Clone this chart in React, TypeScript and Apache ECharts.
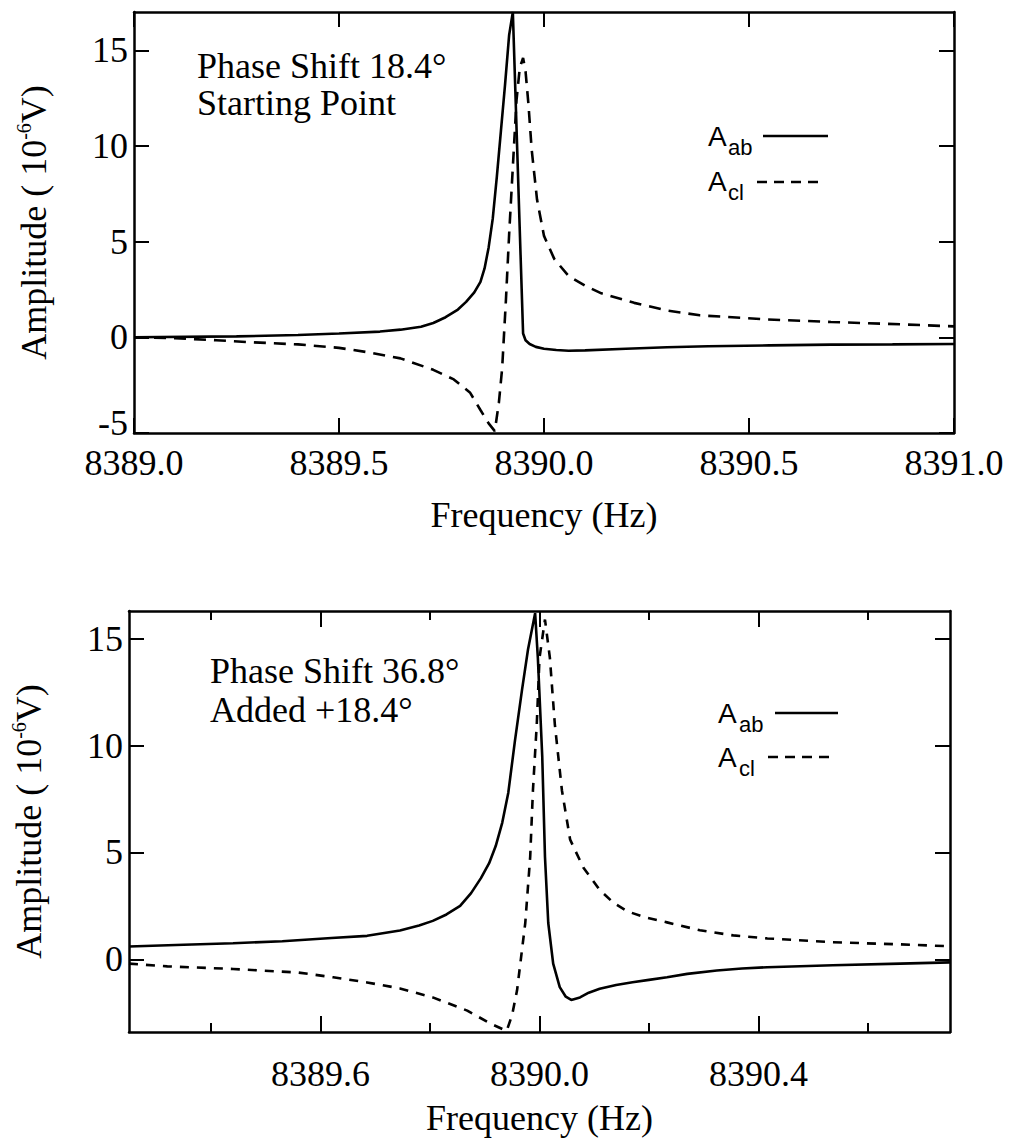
import React, { useEffect, useRef } from "react";
import * as echarts from "echarts";

// ---------- DATA ----------
// Top panel: phase shift 18.4° (starting point)
const topFreqAb = [
  8389.0, 8389.25, 8389.4, 8389.5, 8389.6, 8389.65, 8389.7, 8389.73, 8389.76, 8389.79,
  8389.81, 8389.83, 8389.845, 8389.855, 8389.865, 8389.875, 8389.885, 8389.895, 8389.905,
  8389.915, 8389.924, 8389.932, 8389.94, 8389.949, 8389.955, 8389.965, 8389.98, 8390.0,
  8390.03, 8390.06, 8390.1, 8390.2, 8390.3, 8390.4, 8390.55, 8390.7, 8390.85, 8391.0,
];
const topAb = [
  0.0, 0.05, 0.12, 0.2, 0.3, 0.4, 0.55, 0.75, 1.05, 1.45,
  1.85, 2.35, 2.9, 3.6, 4.7, 6.2, 8.4, 10.8, 13.2,
  15.8, 17.0, 11.6, 6.2, 0.2, -0.15, -0.35, -0.5, -0.6,
  -0.66, -0.7, -0.68, -0.6, -0.52, -0.47, -0.42, -0.38, -0.37, -0.35,
];
const topFreqCl = [
  8389.0, 8389.1, 8389.2, 8389.28, 8389.4, 8389.5, 8389.57, 8389.65, 8389.73, 8389.78,
  8389.82, 8389.845, 8389.865, 8389.88, 8389.89, 8389.898, 8389.907, 8389.915, 8389.924,
  8389.933, 8389.941, 8389.949, 8389.955, 8389.962, 8389.97, 8389.983, 8390.0, 8390.025,
  8390.06, 8390.1, 8390.14, 8390.22, 8390.3, 8390.38, 8390.54, 8390.7, 8390.87, 8391.0,
];
const topCl = [
  0.0, -0.05, -0.15, -0.25, -0.37, -0.55, -0.78, -1.1, -1.7, -2.2,
  -2.9, -3.8, -4.5, -4.9, -3.4, -1.6, 1.9, 5.4, 8.9,
  12.4, 14.1, 14.6, 13.9, 12.2, 9.8, 7.2, 5.3, 4.1,
  3.2, 2.7, 2.3, 1.8, 1.4, 1.15, 0.94, 0.8, 0.68, 0.57,
];

// Bottom panel: phase shift 36.8° (added +18.4°)
const botFreqAb = [
  8389.25, 8389.35, 8389.44, 8389.53, 8389.62, 8389.685, 8389.745, 8389.78, 8389.805, 8389.83,
  8389.855, 8389.875, 8389.893, 8389.908, 8389.92, 8389.932, 8389.943, 8389.955, 8389.968,
  8389.979, 8389.992, 8389.997, 8390.005, 8390.01, 8390.016, 8390.025, 8390.037, 8390.048,
  8390.058, 8390.074, 8390.09, 8390.11, 8390.14, 8390.17, 8390.2, 8390.233, 8390.27, 8390.324,
  8390.37, 8390.416, 8390.536, 8390.659, 8390.75,
];
const botAb = [
  0.6, 0.68, 0.75, 0.85, 1.0, 1.1, 1.35, 1.58, 1.8, 2.1,
  2.5, 3.1, 3.8, 4.5, 5.3, 6.4, 7.8, 10.2, 12.6,
  14.5, 16.2, 14.1, 9.5, 4.8, 1.7, -0.2, -1.3, -1.75,
  -1.9, -1.78, -1.56, -1.38, -1.2, -1.07, -0.96, -0.84, -0.68, -0.52,
  -0.43, -0.37, -0.28, -0.2, -0.14,
];
const botFreqCl = [
  8389.25, 8389.32, 8389.44, 8389.56, 8389.623, 8389.685, 8389.745, 8389.805, 8389.868, 8389.91,
  8389.94, 8389.95, 8389.959, 8389.974, 8389.983, 8389.988, 8389.995, 8390.0, 8390.01,
  8390.019, 8390.028, 8390.041, 8390.056, 8390.08, 8390.11, 8390.135, 8390.16, 8390.195,
  8390.233, 8390.293, 8390.354, 8390.416, 8390.536, 8390.659, 8390.75,
];
const botCl = [
  -0.2, -0.33, -0.45, -0.62, -0.84, -1.08, -1.36, -1.78, -2.4, -3.0,
  -3.35, -2.6, -1.45, 1.7, 4.8, 7.9, 11.0, 14.1, 15.9,
  14.1, 11.0, 7.9, 5.6, 4.3, 3.25, 2.65, 2.25, 1.95,
  1.73, 1.36, 1.12, 0.98, 0.8, 0.7, 0.61,
];

// Axis ticks / labels
const topXLabels = [8389.0, 8389.5, 8390.0, 8390.5, 8391.0];
const topYLabels = [-5, 0, 5, 10, 15];
const botXMajor = [8389.6, 8390.0, 8390.4];
const botXMinor = [8389.4, 8389.8, 8390.2, 8390.6];
const botYLabels = [0, 5, 10, 15];

const topTitle = ["Phase Shift 18.4°", "Starting Point"];
const botTitle = ["Phase Shift 36.8°", "Added +18.4°"];

// ---------- STYLE ----------
const INK = "#000";
const SERIF = "'Liberation Serif', 'Times New Roman', serif";
const SANS = "'Liberation Sans', Arial, sans-serif";

const zip = (xs: number[], ys: number[]) => xs.map((x, i) => [x, ys[i]]);

function xAxisDef(o: any) {
  return {
    type: "value",
    gridIndex: o.grid,
    position: o.pos,
    min: o.min,
    max: o.max,
    axisLine: { show: o.line !== false, onZero: false, lineStyle: { color: INK, width: 2.5 } },
    axisTick: {
      show: true,
      inside: true,
      length: o.len,
      customValues: o.ticks,
      lineStyle: { color: INK, width: 2 },
    },
    axisLabel: o.labels
      ? {
          show: true,
          customValues: o.labels,
          formatter: (v: number) => Number(v).toFixed(1),
          color: INK,
          fontFamily: SERIF,
          fontSize: 36,
          margin: o.margin,
          hideOverlap: false,
        }
      : { show: false },
    splitLine: { show: false },
    name: o.name || "",
    nameLocation: "middle",
    nameGap: o.nameGap || 62,
    nameTextStyle: { color: INK, fontFamily: SERIF, fontSize: 36 },
  };
}

function yAxisDef(o: any) {
  return {
    type: "value",
    gridIndex: o.grid,
    position: o.pos,
    min: o.min,
    max: o.max,
    axisLine: { show: true, onZero: false, lineStyle: { color: INK, width: 2.5 } },
    axisTick: {
      show: true,
      inside: true,
      length: 15,
      customValues: o.ticks,
      lineStyle: { color: INK, width: 2 },
    },
    axisLabel: o.labels
      ? {
          show: true,
          customValues: o.labels,
          // the bottom-corner label is lifted slightly so it clears the x labels
          formatter: (v: number) => (v === o.min ? `{lo|${v}}` : `${v}`),
          color: INK,
          fontFamily: SERIF,
          fontSize: 36,
          margin: 6,
          hideOverlap: false,
          rich: {
            lo: { color: INK, fontFamily: SERIF, fontSize: 36, padding: [0, 0, 20, 0] },
          },
        }
      : { show: false },
    splitLine: { show: false },
    name: o.name ? "{a|Amplitude ( 10}{s|-6}{a|V)}" : "",
    nameLocation: "middle",
    nameRotate: 90,
    nameGap: 80,
    nameTextStyle: {
      color: INK,
      fontFamily: SERIF,
      fontSize: 36,
      rich: {
        a: { color: INK, fontFamily: SERIF, fontSize: 36, lineHeight: 40 },
        s: { color: INK, fontFamily: SERIF, fontSize: 20, lineHeight: 24, verticalAlign: "top" },
      },
    },
  };
}

function label(text: string, x: number, y: number, size: number, family: string) {
  return {
    type: "text",
    x,
    y,
    silent: true,
    style: {
      text,
      fill: INK,
      fontSize: size,
      fontFamily: family,
      align: "left",
      verticalAlign: "middle",
      textAlign: "left",
      textVerticalAlign: "middle",
    },
  };
}

function legendLine(x1: number, x2: number, y: number, dashed: boolean) {
  return {
    type: "line",
    silent: true,
    shape: { x1, y1: y, x2, y2: y },
    style: { stroke: INK, lineWidth: 2.5, lineDash: dashed ? [10, 7] : null },
  };
}

export default function App() {
  const ref = useRef<HTMLDivElement>(null);

  useEffect(() => {
    if (!ref.current) return;
    const chart = echarts.init(ref.current, undefined, { renderer: "svg" });

    const option: any = {
      animation: false,
      backgroundColor: "#fff",
      grid: [
        { left: 134, top: 12, width: 820, height: 421, containLabel: false },
        { left: 129, top: 611, width: 821, height: 421, containLabel: false },
      ],
      xAxis: [
        xAxisDef({ grid: 0, pos: "bottom", min: 8389.0, max: 8391.0, len: 15, ticks: topXLabels, labels: topXLabels, margin: 12, name: "Frequency (Hz)", nameGap: 64 }),
        xAxisDef({ grid: 0, pos: "top", min: 8389.0, max: 8391.0, len: 15, ticks: topXLabels }),
        xAxisDef({ grid: 1, pos: "bottom", min: 8389.25, max: 8390.75, len: 16, ticks: botXMajor, labels: botXMajor, margin: 24, name: "Frequency (Hz)", nameGap: 68 }),
        xAxisDef({ grid: 1, pos: "bottom", min: 8389.25, max: 8390.75, len: 9, ticks: botXMinor, line: false }),
        xAxisDef({ grid: 1, pos: "top", min: 8389.25, max: 8390.75, len: 16, ticks: botXMajor }),
        xAxisDef({ grid: 1, pos: "top", min: 8389.25, max: 8390.75, len: 9, ticks: botXMinor, line: false }),
      ],
      yAxis: [
        yAxisDef({ grid: 0, pos: "left", min: -5, max: 17, ticks: topYLabels, labels: topYLabels, name: true }),
        yAxisDef({ grid: 0, pos: "right", min: -5, max: 17, ticks: topYLabels }),
        yAxisDef({ grid: 1, pos: "left", min: -3.4, max: 16.3, ticks: botYLabels, labels: botYLabels, name: true }),
        yAxisDef({ grid: 1, pos: "right", min: -3.4, max: 16.3, ticks: botYLabels }),
      ],
      series: [
        {
          name: "A_ab (18.4°)",
          type: "line",
          xAxisIndex: 0,
          yAxisIndex: 0,
          data: zip(topFreqAb, topAb),
          symbol: "none",
          showSymbol: false,
          lineStyle: { color: INK, width: 2.6 },
        },
        {
          name: "A_cl (18.4°)",
          type: "line",
          xAxisIndex: 0,
          yAxisIndex: 0,
          data: zip(topFreqCl, topCl),
          symbol: "none",
          showSymbol: false,
          lineStyle: { color: INK, width: 2.6, type: [12, 8] },
        },
        {
          name: "A_ab (36.8°)",
          type: "line",
          xAxisIndex: 2,
          yAxisIndex: 2,
          data: zip(botFreqAb, botAb),
          symbol: "none",
          showSymbol: false,
          lineStyle: { color: INK, width: 2.6 },
        },
        {
          name: "A_cl (36.8°)",
          type: "line",
          xAxisIndex: 2,
          yAxisIndex: 2,
          data: zip(botFreqCl, botCl),
          symbol: "none",
          showSymbol: false,
          lineStyle: { color: INK, width: 2.6, type: [9, 8] },
        },
      ],
      graphic: [
        label(topTitle[0], 197, 66, 36, SERIF),
        label(topTitle[1], 197, 103, 36, SERIF),
        label(botTitle[0], 210, 671, 36, SERIF),
        label(botTitle[1], 210, 710, 36, SERIF),
        // top legend
        label("A", 708, 136, 28, SANS),
        label("ab", 728, 147, 22, SANS),
        legendLine(763, 828, 136, false),
        label("A", 708, 181, 28, SANS),
        label("cl", 728, 192, 22, SANS),
        legendLine(757, 819, 182, true),
        // bottom legend
        label("A", 718, 713, 28, SANS),
        label("ab", 739, 724, 22, SANS),
        legendLine(775, 838, 713, false),
        label("A", 718, 757, 28, SANS),
        label("cl", 739, 768, 22, SANS),
        legendLine(768, 830, 757, true),
      ],
    };

    chart.setOption(option);
    return () => chart.dispose();
  }, []);

  return (
    <div
      ref={ref}
      style={{ position: "absolute", left: 0, top: 0, width: 1011, height: 1144, background: "#fff" }}
    />
  );
}
